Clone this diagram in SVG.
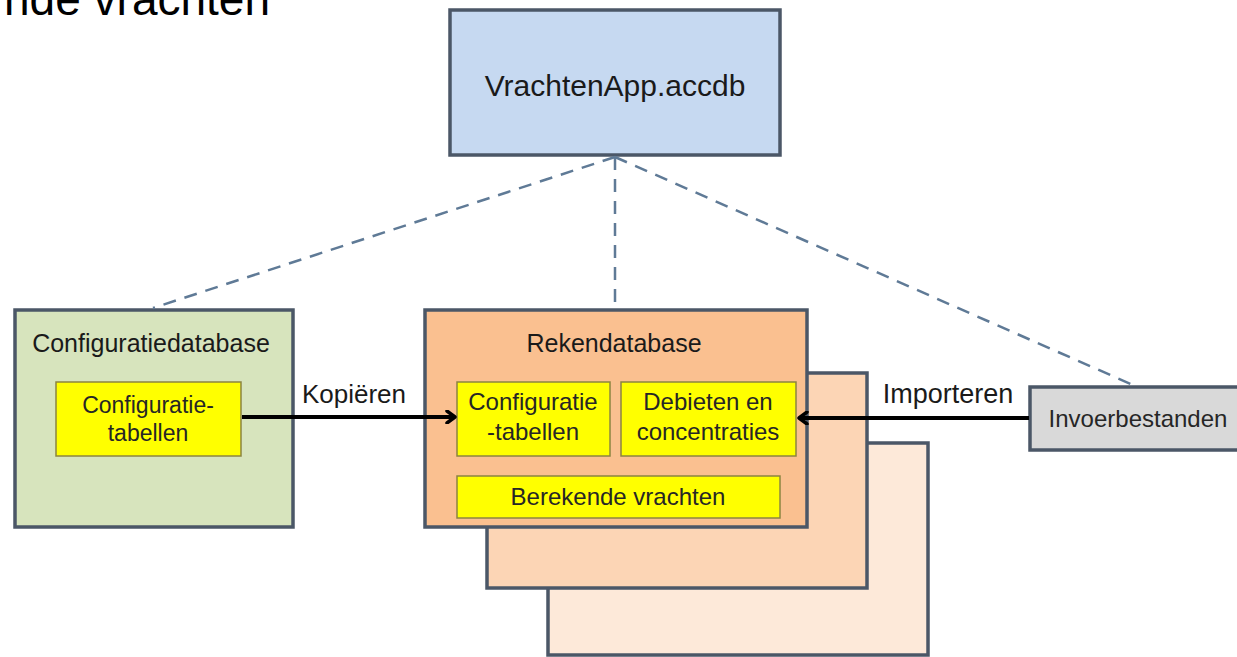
<svg xmlns="http://www.w3.org/2000/svg" width="1237" height="657" viewBox="0 0 1237 657">
<style>
.box{stroke:#4b5767;stroke-width:3.5}
.inner{fill:#ffff00;stroke:#8c8440;stroke-width:1.5}
.lbl{font-family:"Liberation Sans",Arial,sans-serif;font-size:24px;fill:#262626;text-anchor:middle}
.big{font-family:"Liberation Sans",Arial,sans-serif;font-size:25px;fill:#1a1a1a;text-anchor:middle}
.dash{fill:none;stroke:#5f7a96;stroke-width:2.5;stroke-dasharray:13 9}
.arrow{fill:none;stroke:#000;stroke-width:4}
</style>
<defs>
<marker id="ah" markerWidth="12" markerHeight="14" refX="10" refY="7" orient="auto" markerUnits="userSpaceOnUse">
<path d="M2,1 L10,7 L2,13" fill="none" stroke="#000" stroke-width="3.5" stroke-linecap="round" stroke-linejoin="round"/>
</marker>
</defs>
<rect width="1237" height="657" fill="#ffffff"/>
<text x="270" y="15" font-family="Liberation Sans,Arial,sans-serif" font-size="46" fill="#000" text-anchor="end">nde vrachten</text>

<g id="app">
<rect class="box" x="450" y="10" width="330" height="145" fill="#c6d9f1"/>
<text x="615" y="96" font-family="Liberation Sans,Arial,sans-serif" font-size="30" fill="#1a1a1a" text-anchor="middle">VrachtenApp.accdb</text>
</g>

<g id="configdb">
<rect class="box" x="15" y="310" width="278" height="217" fill="#d7e4bd"/>
<text class="big" x="151" y="352">Configuratiedatabase</text>
<g id="configtabellen">
<rect class="inner" x="56" y="382" width="185" height="74"/>
<text class="lbl" x="148" y="413" style="font-size:23px">Configuratie-</text>
<text class="lbl" x="148" y="441" style="font-size:23px">tabellen</text>
</g>
</g>

<g id="rekendb">
<rect class="box" x="548" y="443" width="380" height="212" fill="#fde9d9"/>
<rect class="box" x="487" y="373" width="380" height="215" fill="#fcd5b5"/>
<rect class="box" x="425" y="310" width="382" height="217" fill="#fac090"/>
<text class="big" x="614" y="352">Rekendatabase</text>
<g id="rk-config">
<rect class="inner" x="457" y="382" width="153" height="74"/>
<text class="lbl" x="533" y="410">Configuratie</text>
<text class="lbl" x="533" y="440">-tabellen</text>
</g>
<g id="rk-debieten">
<rect class="inner" x="621" y="382" width="175" height="74"/>
<text class="lbl" x="708" y="410">Debieten en</text>
<text class="lbl" x="708" y="440">concentraties</text>
</g>
<g id="rk-vrachten">
<rect class="inner" x="457" y="476" width="323" height="42"/>
<text class="lbl" x="618" y="505">Berekende vrachten</text>
</g>
</g>

<g id="invoer">
<rect class="box" x="1030" y="387" width="220" height="63" fill="#d9d9d9"/>
<text class="lbl" x="1138" y="427">Invoerbestanden</text>
</g>

<g id="connectors">
<path class="dash" d="M615,157 L153,308"/>
<path class="dash" d="M615,157 L615,308"/>
<path class="dash" d="M615,157 L1133,385"/>
<line class="arrow" x1="242" y1="417" x2="455" y2="417" marker-end="url(#ah)"/>
<line class="arrow" x1="1029" y1="418" x2="799" y2="418" marker-end="url(#ah)"/>
<text class="big" x="354" y="403" style="font-size:26px">Kopiëren</text>
<text class="big" x="948" y="403" style="font-size:27px">Importeren</text>
</g>
</svg>
